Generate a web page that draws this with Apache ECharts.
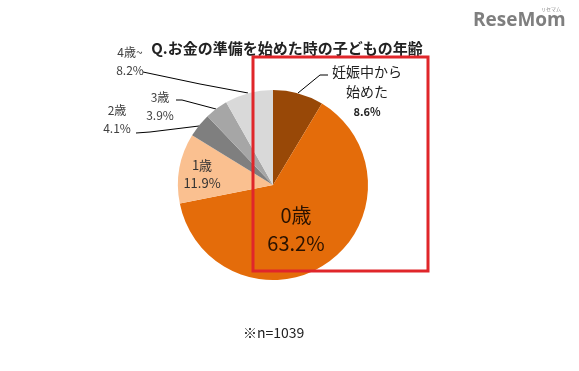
<!DOCTYPE html>
<html><head><meta charset="utf-8">
<script src="https://cdn.jsdelivr.net/npm/echarts@6/dist/echarts.min.js"></script>
<style>html,body{margin:0;padding:0;background:#fff}#c{width:579px;height:371px}</style>
</head><body><div id="c"></div>
<script>
const categories = ['妊娠中から\n始めた', '0歳', '1歳', '2歳', '3歳', '4歳~'];
const values = [8.6, 63.2, 11.9, 4.1, 3.9, 8.2];
const colors = ['#984807', '#E46C0A', '#FAC090', '#7F7F7F', '#A6A6A6', '#D9D9D9'];
const titleText = 'Q.お金の準備を始めた時の子どもの年齢';
const noteText = '※n=1039';

// label layout (styling only)
const labelPos = [
  {x: 367, y: 92, line: [[298, 93], [320, 75], [328, 75]]},
  {x: 296, y: 229},
  {x: 202, y: 174},
  {x: 117, y: 119, line: [[199, 126], [150, 132], [136, 133]]},
  {x: 160, y: 106, line: [[216, 109], [182, 100], [176, 100]]},
  {x: 130, y: 61, line: [[248, 93], [200, 84], [143, 72]]}
];
const FONT = '"Noto Sans CJK JP", "Noto Sans", sans-serif';

const data = categories.map((n, i) => {
  const item = {name: n, value: values[i], itemStyle: {color: colors[i]}};
  if (i === 0) {
    item.label = {formatter: '{a|{b}}\n{b2|{c}%}', rich: {
      a: {fontSize: 14, lineHeight: 20, color: '#222', fontFamily: FONT},
      b2: {fontSize: 11, lineHeight: 20, fontWeight: 'bold', color: '#222', fontFamily: FONT}}};
  } else if (i === 1) {
    item.label = {position: 'inside', fontSize: 20, lineHeight: 28, color: '#2a1200'};
    item.labelLine = {show: false};
  } else if (i === 2) {
    item.label = {position: 'inside', fontSize: 13, lineHeight: 18, color: '#333'};
    item.labelLine = {show: false};
  }
  return item;
});

const chart = echarts.init(document.getElementById('c'), null, {renderer: 'canvas'});
chart.setOption({
  backgroundColor: '#fff',
  animation: false,
  title: {text: titleText, left: 282, top: 36, textAlign: 'center',
    textStyle: {fontSize: 15, fontWeight: 'bold', color: '#222', fontFamily: FONT}},
  graphic: [
    {type: 'rect', shape: {x: 253, y: 57, width: 175, height: 214}, z: 100,
      style: {fill: 'none', stroke: '#E0262A', lineWidth: 3}},
    {type: 'text', left: 473, top: 11, z: 100, style: {text: 'ReseMom', fontSize: 19, fontWeight: 'bold',
      fill: '#7f7f7f', fontFamily: '"Open Sans", "DejaVu Sans", sans-serif'}},
    {type: 'text', left: 541, top: 7, z: 100, style: {text: 'リセマム', fontSize: 5, fill: '#888', fontFamily: FONT}},
    {type: 'text', left: 243, top: 326, z: 100, style: {text: noteText, fontSize: 14, fill: '#222', fontFamily: FONT}}
  ],
  series: [{
    type: 'pie',
    center: [273, 185],
    radius: [0, 95],
    startAngle: 90,
    clockwise: true,
    data: data,
    label: {show: true, formatter: '{b}\n{c}%', fontSize: 12, lineHeight: 18, color: '#404040',
      fontFamily: FONT, align: 'center'},
    labelLine: {show: true, lineStyle: {color: '#000', width: 1}},
    labelLayout: function (p) {
      const pos = labelPos[p.dataIndex];
      const r = {x: pos.x, y: pos.y, align: 'center', verticalAlign: 'middle'};
      if (pos.line) r.labelLinePoints = pos.line;
      return r;
    },
    emphasis: {disabled: true}
  }]
});
</script></body></html>
